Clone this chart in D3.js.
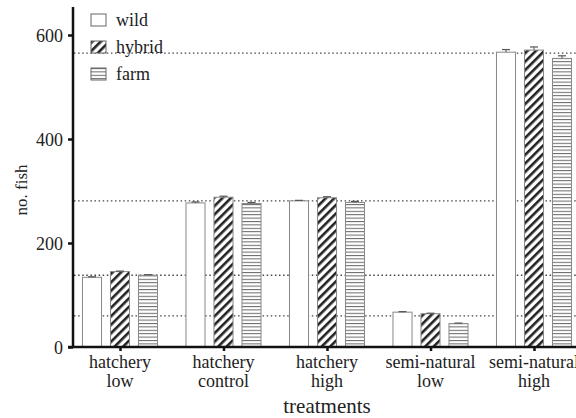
<!DOCTYPE html>
<html>
<head>
<meta charset="utf-8">
<script src="https://cdn.jsdelivr.net/npm/d3@7"></script>
<style>
  body { margin: 0; background: #fff; }
  svg text { font-family: "Liberation Serif", "DejaVu Serif", serif !important; }
</style>
</head>
<body>
<div id="chart"></div>
<script>
const categories = [["hatchery", "low"], ["hatchery", "control"], ["hatchery", "high"], ["semi-natural", "low"], ["semi-natural", "high"]];
const seriesNames = ["wild", "hybrid", "farm"];
const wild = [134, 277, 281, 67, 567];
const hybrid = [145, 288, 287, 64, 571];
const farm = [138, 276, 278, 45, 555];
const wildErr = [1, 2, 1, 1, 5];
const hybridErr = [1, 2, 2, 1, 6];
const farmErr = [1, 2, 2, 1, 5];
const refLines = [565, 281, 138, 60];
const yTicks = [0, 200, 400, 600];

const width = 576, height = 418;
const values = [wild, hybrid, farm];
const errs = [wildErr, hybridErr, farmErr];

const svg = d3.select("#chart").append("svg")
    .attr("width", width)
    .attr("height", height);

// patterns
const defs = svg.append("defs");
const diag = defs.append("pattern")
    .attr("id", "diag")
    .attr("patternUnits", "userSpaceOnUse")
    .attr("width", 6).attr("height", 6)
    .attr("patternTransform", "rotate(45)");
diag.append("rect").attr("width", 6).attr("height", 6).attr("fill", "#fff");
diag.append("rect").attr("x", 0).attr("width", 2.6).attr("height", 6).attr("fill", "#222");

const horiz = defs.append("pattern")
    .attr("id", "horiz")
    .attr("patternUnits", "userSpaceOnUse")
    .attr("width", 6).attr("height", 3.4);
horiz.append("rect").attr("width", 6).attr("height", 3.4).attr("fill", "#fff");
horiz.append("rect").attr("y", 0).attr("width", 6).attr("height", 1).attr("fill", "#666");

const fills = ["#fff", "url(#diag)", "url(#horiz)"];

const y = d3.scaleLinear().domain([0, 600]).range([347, 35]);
const x = d3.scalePoint().domain(d3.range(categories.length)).range([120, 534]);
const xs = d3.scaleBand().domain(d3.range(3)).range([-42, 42])
    .paddingInner(0.32).paddingOuter(0.16);

// dotted reference lines
svg.append("g").selectAll("line")
    .data(refLines)
    .enter().append("line")
    .attr("x1", 74).attr("x2", width)
    .attr("y1", d => y(d)).attr("y2", d => y(d))
    .attr("stroke", "#444")
    .attr("stroke-width", 1.3)
    .attr("stroke-dasharray", "1.5,2.6");

// bars
const groups = svg.append("g").selectAll("g")
    .data(categories)
    .enter().append("g")
    .attr("transform", (d, i) => `translate(${x(i)},0)`);

groups.each(function (c, i) {
    const g = d3.select(this);
    for (let s = 0; s < 3; s++) {
        const v = values[s][i], e = errs[s][i];
        const bx = xs(s);
        g.append("rect")
            .attr("x", bx).attr("y", y(v))
            .attr("width", xs.bandwidth()).attr("height", y(0) - y(v))
            .attr("fill", fills[s])
            .attr("stroke", "#888").attr("stroke-width", 1);
        const cx = bx + xs.bandwidth() / 2;
        g.append("line")
            .attr("x1", cx).attr("x2", cx)
            .attr("y1", y(v)).attr("y2", y(v + e))
            .attr("stroke", "#555");
        g.append("line")
            .attr("x1", cx - 4).attr("x2", cx + 4)
            .attr("y1", y(v + e)).attr("y2", y(v + e))
            .attr("stroke", "#555").attr("stroke-width", 1.2);
    }
});

// y axis
const yAxis = svg.append("g")
    .attr("transform", "translate(73,0)")
    .call(d3.axisLeft(y).tickValues(yTicks).tickSize(5).tickPadding(5).tickSizeOuter(0));
yAxis.select(".domain").remove();
yAxis.append("line").attr("x1", 0).attr("x2", 0).attr("y1", 7).attr("y2", 348)
    .attr("stroke", "#111").attr("stroke-width", 2.5);
yAxis.selectAll(".tick line").attr("stroke", "#111").attr("stroke-width", 2.5);
yAxis.selectAll(".tick text")
    .attr("dy", "0.34em")
    .attr("font-size", 18).attr("fill", "#222");

// x axis
const xAxis = svg.append("g")
    .attr("transform", "translate(0,347)")
    .call(d3.axisBottom(x).tickSize(4).tickFormat(""));
xAxis.select(".domain").remove();
xAxis.append("line").attr("x1", 68).attr("x2", width).attr("y1", 0).attr("y2", 0)
    .attr("stroke", "#111").attr("stroke-width", 2.5);
xAxis.selectAll(".tick line").attr("stroke", "#111").attr("stroke-width", 2.5);

const lbl = svg.append("g").selectAll("text")
    .data(categories)
    .enter().append("text")
    .attr("text-anchor", "middle")
    .attr("fill", "#222")
    .attr("font-size", 18);
lbl.append("tspan").attr("x", (d, i) => x(i)).attr("y", 368).text(d => d[0]);
lbl.append("tspan").attr("x", (d, i) => x(i)).attr("y", 387).text(d => d[1]);

svg.append("text")
    .attr("x", 327).attr("y", 413)
    .attr("text-anchor", "middle")
    .attr("fill", "#222")
    .attr("font-size", 21)
    .text("treatments");

svg.append("text")
    .attr("transform", "translate(27,190) rotate(-90)")
    .attr("text-anchor", "middle")
    .attr("fill", "#222")
    .attr("font-size", 17)
    .text("no. fish");

// legend
const legend = svg.append("g").selectAll("g")
    .data(seriesNames)
    .enter().append("g")
    .attr("transform", (d, i) => `translate(91,${14 + i * 27})`);
legend.append("rect")
    .attr("width", 15).attr("height", 12)
    .attr("fill", (d, i) => fills[i])
    .attr("stroke", "#666").attr("stroke-width", 1);
legend.append("text")
    .attr("x", 25).attr("y", 12)
    .attr("fill", "#222")
    .attr("font-size", 18)
    .text(d => d);
</script>
</body>
</html>
